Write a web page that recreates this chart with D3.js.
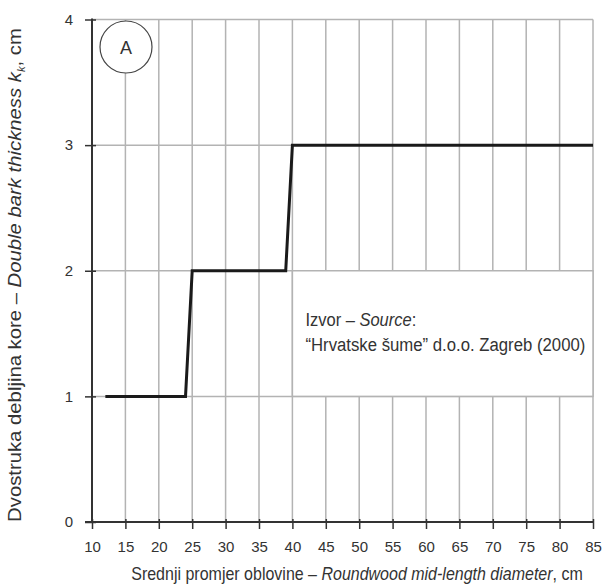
<!DOCTYPE html>
<html>
<head>
<meta charset="utf-8">
<script src="https://cdn.jsdelivr.net/npm/d3@7"></script>
<style>
  body{margin:0;background:#fff;}
  svg{font-family:"Liberation Sans",Arial,sans-serif;}
</style>
</head>
<body>
<script>
// step line: double bark thickness by mid-length diameter
const diam=[12,24,25,39,40,85];
const bark=[1,1,2,2,3,3];
const xTicks=[10,15,20,25,30,35,40,45,50,55,60,65,70,75,80,85];
const yTicks=[0,1,2,3,4];
const sourceLines=["Izvor – ","“Hrvatske šume” d.o.o. Zagreb (2000)"];

const w=602,h=588;
const svg=d3.select("body").append("svg").attr("width",w).attr("height",h);

const xScale=d3.scaleLinear().domain([10,85]).range([92,593]);
const yScale=d3.scaleLinear().domain([0,4]).range([522,19.5]);

// squeeze a text horizontally so it takes the given width (the source font is condensed)
function fit(text,width){
  const len=text.node().getComputedTextLength();
  text.attr("transform",`scale(${width/len},1)`);
}

// grid
const grid=svg.append("g").attr("stroke","#b3b3b3").attr("stroke-width",1.5);
grid.selectAll("line.v").data(xTicks.slice(1)).enter().append("line")
  .attr("x1",d=>xScale(d)).attr("x2",d=>xScale(d))
  .attr("y1",yScale(0)).attr("y2",yScale(4));
grid.selectAll("line.h").data(yTicks.slice(1)).enter().append("line")
  .attr("x1",xScale(10)).attr("x2",xScale(85))
  .attr("y1",d=>yScale(d)).attr("y2",d=>yScale(d));

// source box (blanks the grid between 40-85 and 1-2)
svg.append("rect")
  .attr("x",xScale(40)).attr("y",yScale(2))
  .attr("width",xScale(85)-xScale(40)).attr("height",yScale(1)-yScale(2))
  .attr("fill","#fff").attr("stroke","#b3b3b3").attr("stroke-width",1.5);

const g1=svg.append("g").attr("transform",`translate(${xScale(40)+13},${yScale(1.56)})`);
const src=g1.append("text").style("font-size","18px").attr("fill","#333");
src.append("tspan").text(sourceLines[0]);
src.append("tspan").style("font-style","italic").text("Source");
src.append("tspan").text(":");
fit(src,111);
const g2=svg.append("g").attr("transform",`translate(${xScale(40)+13},${yScale(1.36)})`);
const src2=g2.append("text").style("font-size","18px").attr("fill","#333").text(sourceLines[1]);
fit(src2,280);

// axes
const xAxis=d3.axisBottom(xScale).tickValues(xTicks).tickSize(7).tickPadding(12);
svg.append("g").attr("transform",`translate(0,${yScale(0)})`).call(xAxis)
  .call(g=>{
    g.select(".domain").attr("d",`M${xScale(10)-7},0H${xScale(85)}`).attr("stroke","#333").attr("stroke-width",2);
    g.selectAll(".tick line").attr("y1",-3).attr("stroke","#333").attr("stroke-width",1.5);
    g.selectAll(".tick text").style("font-size","15px").attr("fill","#333").attr("font-family",null);
  });

const yAxis=d3.axisLeft(yScale).tickValues(yTicks).tickFormat(d3.format("d")).tickSize(7).tickPadding(12);
svg.append("g").attr("transform",`translate(${xScale(10)},0)`).call(yAxis)
  .call(g=>{
    g.select(".domain").attr("d",`M0,${yScale(4)-1}V${yScale(0)}`).attr("stroke","#333").attr("stroke-width",2);
    g.selectAll(".tick line").attr("x1",4).attr("stroke","#333").attr("stroke-width",1.5);
    g.selectAll(".tick text").style("font-size","15px").attr("fill","#333").attr("font-family",null);
  });

// step line
const pts=diam.map((d,i)=>[d,bark[i]]);
svg.append("path").datum(pts)
  .attr("d",d3.line().x(d=>xScale(d[0])).y(d=>yScale(d[1])))
  .attr("fill","none").attr("stroke","#1a1a1a").attr("stroke-width",3)
  .attr("stroke-linejoin","miter");

// panel label
svg.append("circle").attr("cx",126).attr("cy",47).attr("r",26)
  .attr("fill","#fff").attr("stroke","#444").attr("stroke-width",1.2);
svg.append("text").attr("x",126).attr("y",53.5).attr("text-anchor","middle")
  .style("font-size","18px").attr("fill","#333").text("A");

// axis titles
const gx=svg.append("g").attr("transform","translate(357,580)");
const xt=gx.append("text").attr("text-anchor","middle").style("font-size","18px").attr("fill","#333");
xt.append("tspan").text("Srednji promjer oblovine – ");
xt.append("tspan").style("font-style","italic").text("Roundwood mid-length diameter");
xt.append("tspan").text(", cm");
fit(xt,452);

const gy=svg.append("g").attr("transform","translate(21,275) rotate(-90)");
const yt=gy.append("text").attr("text-anchor","middle").style("font-size","18px").attr("fill","#333");
yt.append("tspan").text("Dvostruka debljina kore – ");
yt.append("tspan").style("font-style","italic").text("Double bark thickness  k");
yt.append("tspan").style("font-style","italic").style("font-size","10px").attr("dy",4).text("k");
yt.append("tspan").attr("dy",-4).text(", cm");
fit(yt,494);
</script>
</body>
</html>
